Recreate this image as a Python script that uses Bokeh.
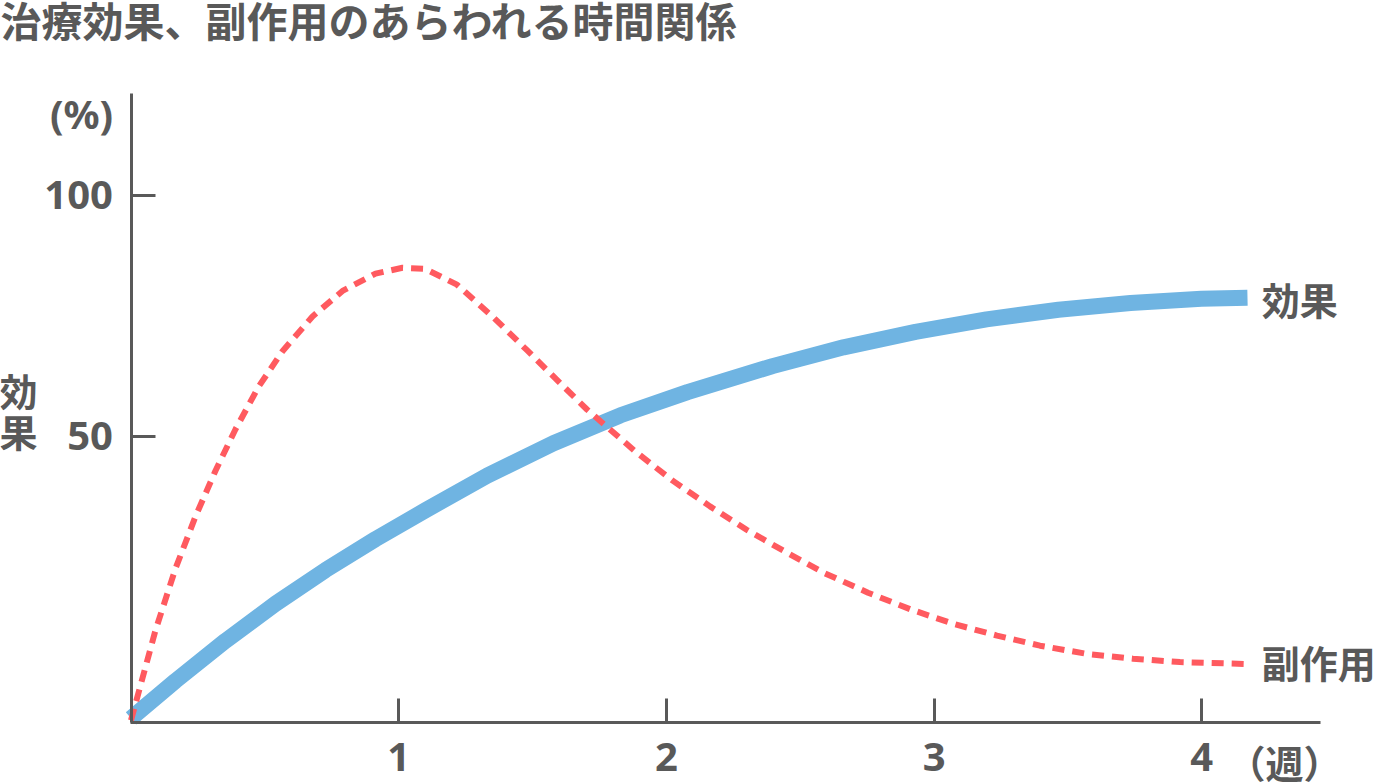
from bokeh.plotting import figure
from bokeh.models import Range1d, FixedTicker, Label
from bokeh.embed import file_html
from bokeh.resources import INLINE

# ---------------- data ----------------
title_text = "治療効果、副作用のあらわれる時間関係"

effect_weeks = [0.0, 0.1662, 0.3530, 0.5398, 0.7266, 0.9133, 1.1001, 1.3317, 1.5782, 1.8285,
                2.0788, 2.3963, 2.6616, 2.9305, 3.1957, 3.4647, 3.7336, 3.9988, 4.1707]
effect_values = [-8.5, -0.7, 7.6, 15.3, 22.3, 28.7, 34.7, 41.9, 48.6, 54.4,
                 59.2, 64.6, 68.5, 71.7, 74.3, 76.3, 77.7, 78.6, 78.8]

side_weeks = [0.0, 0.0915, 0.1662, 0.2409, 0.3156, 0.3904, 0.4763, 0.5659, 0.6780, 0.7901,
              0.9133, 1.0142, 1.0982, 1.2178, 1.3523, 1.4793, 1.6026, 1.7034, 1.8902, 2.0247,
              2.1629, 2.3011, 2.4468, 2.5925, 2.7531, 2.9137, 3.0744, 3.2350, 3.3956, 3.5712,
              3.7430, 3.9186, 4.1688]
side_values = [-8.9, 9.8, 22.6, 33.4, 42.9, 51.5, 60.3, 67.7, 74.9, 80.2,
               83.8, 85.0, 84.8, 81.5, 74.8, 67.9, 61.1, 55.6, 46.6, 40.8,
               35.5, 30.6, 26.0, 21.6, 17.6, 14.1, 11.1, 8.7, 6.6, 4.9,
               3.9, 3.2, 2.8]

x_ticks = [1, 2, 3, 4]
x_tick_labels = ["1", "2", "3", "4"]
y_ticks = [50, 100]
y_tick_labels = ["50", "100"]

series_names = ["効果", "副作用"]
x_unit = "（週）"
y_unit = "(%)"
y_name = ["効", "果"]

# ---------------- style ----------------
GRAY = "#595959"
BLUE = "#6FB4E2"
RED = "#FF5A5F"
CJK = "Noto Sans CJK JP"
LAT = "Noto Sans"

# axis extents (data units)
X_MIN, X_MAX = -0.0037, 4.4435
Y_MIN, Y_MAX = -9.336, 121.16

p = figure(width=1376, height=782, output_backend="svg", toolbar_location=None,
           x_range=Range1d(-0.48749, 4.65260), y_range=Range1d(-21.784, 140.456),
           min_border=0)
p.outline_line_color = None
p.grid.visible = False
p.background_fill_color = "white"
p.border_fill_color = "white"

p.line(effect_weeks, effect_values, line_color=BLUE, line_width=16,
       line_cap="butt", line_join="round")
p.line(side_weeks, side_values, line_color=RED, line_width=6,
       line_dash="12 8", line_cap="butt", line_join="round")

for ax in (p.xaxis[0], p.yaxis[0]):
    ax.axis_line_color = GRAY
    ax.axis_line_width = 3
    ax.major_tick_line_color = GRAY
    ax.major_tick_line_width = 3
    ax.major_tick_in = 24
    ax.major_tick_out = 0
    ax.minor_tick_line_color = None
    ax.major_label_text_color = GRAY
    ax.major_label_text_font = LAT
    ax.major_label_text_font_size = "40px"
    ax.major_label_text_font_style = "bold"

p.xaxis.fixed_location = Y_MIN
p.xaxis.bounds = (X_MIN, X_MAX)
p.xaxis.ticker = FixedTicker(ticks=x_ticks)
p.xaxis.major_label_overrides = dict(zip(x_ticks, x_tick_labels))
p.xaxis.major_label_standoff = 20

p.yaxis.fixed_location = 0.0
p.yaxis.bounds = (Y_MIN, Y_MAX)
p.yaxis.ticker = FixedTicker(ticks=y_ticks)
p.yaxis.major_label_overrides = dict(zip(y_ticks, y_tick_labels))
p.yaxis.major_label_standoff = 18

def lab(x, y, text, size="38px", align="left", weight="bold", font=CJK, baseline="middle"):
    p.add_layout(Label(x=x, y=y, text=text, text_font=font, text_font_size=size,
                       text_color=GRAY, text_align=align, text_baseline=baseline,
                       text_font_style=weight))

# title
lab(-0.48749, 136.72, title_text, size="41px")
# y unit and y name
lab(-0.1849, 117.0, y_unit, size="40px", align="center", font=LAT)
lab(-0.4202, 59.75, y_name[0], align="center")
lab(-0.4202, 51.24, y_name[1], align="center")
# series labels
lab(4.224, 78.6, series_names[0])
lab(4.224, 3.3, series_names[1])
# x unit
lab(4.309, -17.4, x_unit, align="center")

open("out.html", "w").write(file_html(p, INLINE))
